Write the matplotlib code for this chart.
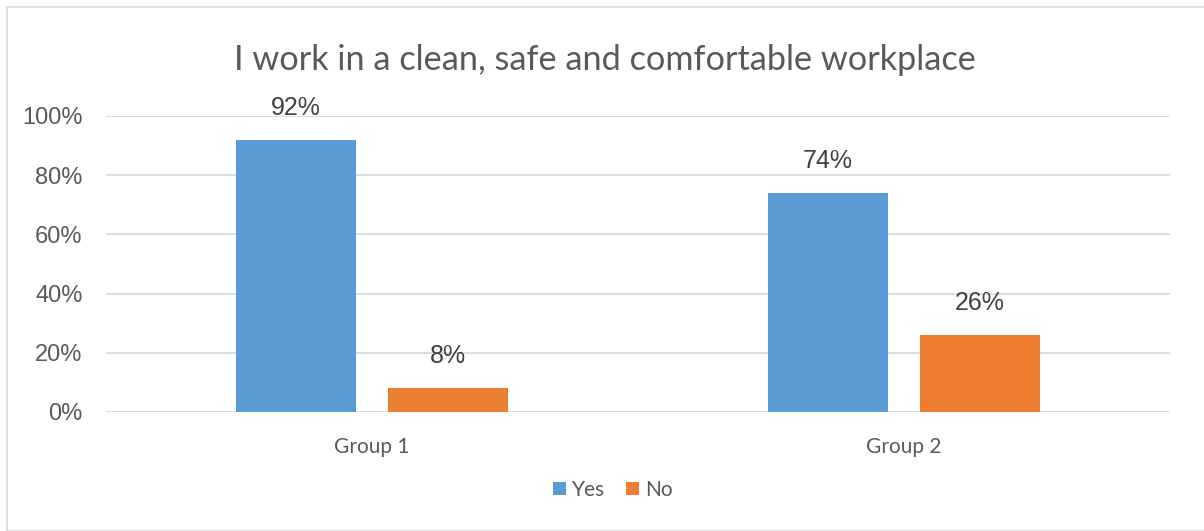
import matplotlib
matplotlib.use("Agg")
import matplotlib.pyplot as plt
import numpy as np
from matplotlib.patches import Rectangle

categories = ["Group 1", "Group 2"]
series_names = ["Yes", "No"]
yes_values = [0.92, 0.74]
no_values = [0.08, 0.26]
yticks = [0, 0.2, 0.4, 0.6, 0.8, 1.0]
ytick_labels = ["0%", "20%", "40%", "60%", "80%", "100%"]

BLUE = "#5B9BD5"
ORANGE = "#ED7D31"
TEXT = "#595959"
GRID = "#D9D9D9"

fig = plt.figure(figsize=(12.04, 5.31), dpi=100)
fig.patches.append(Rectangle((7/1204, 0), 1.5, 1 - 7/531, transform=fig.transFigure,
                             fill=False, edgecolor="#D9D9D9", linewidth=1.2))
ax = fig.add_axes([106/1204, 1 - 412/531, (1170 - 106)/1204, (412 - 116)/531])

x = np.arange(len(categories))
w = 0.225
off = 0.1426
b1 = ax.bar(x - off, yes_values, w, color=BLUE, label=series_names[0], zorder=3)
b2 = ax.bar(x + off, no_values, w, color=ORANGE, label=series_names[1], zorder=3)

for bars, vals in ((b1, yes_values), (b2, no_values)):
    for r, v in zip(bars, vals):
        ax.annotate(f"{round(v*100)}%", (r.get_x() + r.get_width()/2, v),
                    xytext=(0, 14.5), textcoords="offset points", ha="center", va="bottom",
                    fontsize=18, color="#404040", family="Liberation Sans")

ax.set_xlim(-0.5, 1.5)
ax.set_ylim(0, 1.0)
ax.set_yticks(yticks)
ax.set_yticklabels(ytick_labels, fontsize=17, color=TEXT, family="Liberation Sans")
ax.set_xticks(x)
ax.set_xticklabels(categories, fontsize=15, color=TEXT, family="Lato")
ax.tick_params(axis="both", length=0)
ax.tick_params(axis="y", pad=17)
ax.tick_params(axis="x", pad=18)
for s in ax.spines.values():
    s.set_visible(False)
ax.grid(axis="y", color=GRID, linewidth=1.3, zorder=0)
ax.set_axisbelow(True)

fig.text(605/1204, 1 - 60/531, "I work in a clean, safe and comfortable workplace",
         ha="center", va="center", fontsize=24.7, color=TEXT, family="Lato")

leg = fig.legend(handles=[b1, b2], labels=series_names, loc="center",
                 bbox_to_anchor=(613/1204, 1 - 490/531), ncol=2, frameon=False,
                 handlelength=0.6, handleheight=0.6, handletextpad=0.3,
                 columnspacing=1.0, prop={"family": "Lato", "size": 15})
for t in leg.get_texts():
    t.set_color(TEXT)

fig.savefig("out.png", dpi=100, facecolor="white")
